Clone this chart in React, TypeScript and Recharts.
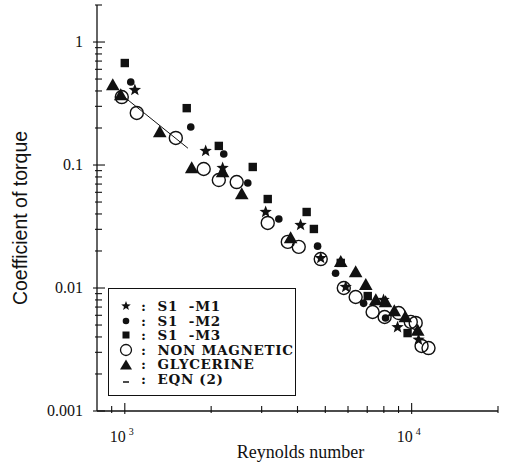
import React from "react";
import { ScatterChart, Scatter, XAxis, YAxis, Legend } from "recharts";

// Reynolds number / torque coefficient pairs for each run
const m1Re = [1084, 1914, 2193, 3098, 4100, 4820, 5890, 7980, 8930, 10570];
const m1Ct = [0.407, 0.13, 0.0946, 0.0415, 0.0325, 0.0175, 0.0102, 0.008, 0.0048, 0.0038];

const m2Re = [1049, 1698, 2213, 2684, 3443, 4700, 5430, 6800, 8110];
const m2Ct = [0.473, 0.204, 0.123, 0.0714, 0.0364, 0.0219, 0.0132, 0.0075, 0.0057];

const m3Re = [1000, 1644, 2127, 2793, 3150, 4305, 4562, 5660, 7030, 9680];
const m3Ct = [0.675, 0.29, 0.143, 0.0964, 0.0529, 0.0415, 0.0302, 0.016, 0.0086, 0.0043];

const nonMagRe = [976, 1101, 1506, 1884, 2127, 2455, 3150, 3700, 4040, 4820, 5800, 6380, 7310, 8050, 9010, 9930, 10330, 10830, 11450];
const nonMagCt = [0.357, 0.265, 0.166, 0.0928, 0.0755, 0.0727, 0.0338, 0.0237, 0.0216, 0.0172, 0.01, 0.00845, 0.00638, 0.00581, 0.00626, 0.0053, 0.0052, 0.00338, 0.00325];

const glyRe = [908, 968, 1324, 1711, 2193, 2557, 3785, 5660, 6380, 6920, 7500, 8110, 8700, 9500, 10500];
const glyCt = [0.447, 0.37, 0.185, 0.0946, 0.0877, 0.0581, 0.0255, 0.0163, 0.0135, 0.0106, 0.008, 0.0077, 0.0065, 0.0058, 0.0045];

// EQN (2) segment
const eqnRe = [950, 1660];
const eqnCt = [0.39, 0.137];

const xTicks = [900, 1000, 2000, 3000, 4000, 5000, 6000, 7000, 8000, 9000, 10000, 20000];
const yTicks = [
  0.001, 0.002, 0.003, 0.004, 0.005, 0.006, 0.007, 0.008, 0.009,
  0.01, 0.02, 0.03, 0.04, 0.05, 0.06, 0.07, 0.08, 0.09,
  0.1, 0.2, 0.3, 0.4, 0.5, 0.6, 0.7, 0.8, 0.9,
  1, 2,
];
const yMajor = ["0.001", "0.01", "0.1", "1"];
const xMajor = [
  { value: 1000, exp: "3" },
  { value: 10000, exp: "4" },
];

const zip = (xs: number[], ys: number[]) => xs.map((re, i) => ({ re, ct: ys[i] }));

const INK = "#111";
const SERIF = "'Liberation Serif', 'Times New Roman', Tinos, 'DejaVu Serif', 'Noto Serif', serif";
const BOLD_SERIF = "'DejaVu Serif', 'Liberation Serif', 'Noto Serif', serif";

const Star = ({ cx, cy, r = 6.5 }: any) => {
  const pts: string[] = [];
  for (let i = 0; i < 10; i++) {
    const a = (Math.PI / 5) * i - Math.PI / 2;
    const rr = i % 2 === 0 ? r : r * 0.42;
    pts.push(`${cx + rr * Math.cos(a)},${cy + rr * Math.sin(a)}`);
  }
  return <polygon points={pts.join(" ")} fill={INK} />;
};
const Dot = ({ cx, cy }: any) => <circle cx={cx} cy={cy} r={3.8} fill={INK} />;
const Square = ({ cx, cy }: any) => <rect x={cx - 4.2} y={cy - 4.2} width={8.4} height={8.4} fill={INK} />;
const Ring = ({ cx, cy }: any) => (
  <circle cx={cx} cy={cy} r={6.5} fill="none" stroke={INK} strokeWidth={1.4} />
);
const Tri = ({ cx, cy }: any) => (
  <polygon points={`${cx},${cy - 6.8} ${cx + 6.8},${cy + 5.2} ${cx - 6.8},${cy + 5.2}`} fill={INK} />
);
const NoMark = () => <g />;

const YTick = ({ x, y, payload }: any) => {
  const label = yMajor.find((s) => Number(s) === payload.value);
  return (
    <g>
      <line x1={x - (label ? 4 : 2)} x2={x + (label ? 8 : 5)} y1={y} y2={y} stroke={INK} strokeWidth={1.1} />
      {label && (
        <text x={x - 14} y={y} dy={5} textAnchor="end" style={{ fontFamily: SERIF }} fontSize={16} fill={INK}>
          {label}
        </text>
      )}
    </g>
  );
};

const XTick = ({ x, y, payload }: any) => {
  const major = xMajor.find((m) => m.value === payload.value);
  return (
    <g>
      <line x1={x} x2={x} y1={y + (major ? 3 : 2)} y2={y - (major ? 8 : 5)} stroke={INK} strokeWidth={1.1} />
      {major && (
        <text x={x - 3} y={y + 31} textAnchor="middle" style={{ fontFamily: SERIF }} fontSize={16} fill={INK}>
          10
          <tspan dx={3} dy={-7} fontSize={10}>
            {major.exp}
          </tspan>
        </text>
      )}
    </g>
  );
};

const legendRows = [
  { mark: "star", text: "S1  -M1" },
  { mark: "dot", text: "S1  -M2" },
  { mark: "square", text: "S1  -M3" },
  { mark: "ring", text: "NON MAGNETIC" },
  { mark: "tri", text: "GLYCERINE" },
  { mark: "dash", text: "EQN (2)" },
];

const LegendMark = ({ mark }: { mark: string }) => {
  const c = 7;
  return (
    <svg width={14} height={14} style={{ display: "block" }}>
      {mark === "star" && <Star cx={c} cy={c} r={5} />}
      {mark === "dot" && <circle cx={c} cy={c} r={3.3} fill={INK} />}
      {mark === "square" && <rect x={c - 3.5} y={c - 3.5} width={7} height={7} fill={INK} />}
      {mark === "ring" && <circle cx={c} cy={c} r={5.5} fill="none" stroke={INK} strokeWidth={1.3} />}
      {mark === "tri" && <polygon points={`${c},${c - 5.5} ${c + 6},${c + 4.5} ${c - 6},${c + 4.5}`} fill={INK} />}
      {mark === "dash" && <line x1={c - 3} x2={c + 3} y1={c + 3} y2={c + 3} stroke={INK} strokeWidth={1.5} />}
    </svg>
  );
};

const LegendBox = () => (
  <div
    style={{
      border: `1.3px solid ${INK}`,
      width: 188,
      height: 108,
      boxSizing: "border-box",
      padding: "10px 0 0 10px",
      fontFamily: BOLD_SERIF,
      fontWeight: "bold",
      fontSize: 13.5,
      lineHeight: "14.6px",
      letterSpacing: 0.7,
      color: INK,
    }}
  >
    {legendRows.map((r) => (
      <div key={r.text} style={{ display: "flex", alignItems: "center", height: 14.6 }}>
        <LegendMark mark={r.mark} />
        <span style={{ marginLeft: 8, whiteSpace: "pre" }}>:  {r.text}</span>
      </div>
    ))}
  </div>
);

export default function App() {
  return (
    <div style={{ position: "absolute", left: 0, top: 0, background: "#fff" }}>
      <ScatterChart width={506} height={463} margin={{ top: 5, right: 8, left: 0, bottom: 0 }}>
        <XAxis
          dataKey="re"
          type="number"
          scale="log"
          domain={[800, 20000]}
          ticks={xTicks}
          interval={0}
          allowDataOverflow
          height={52}
          tickSize={0}
          tickMargin={0}
          tick={<XTick />}
          axisLine={{ stroke: INK, strokeWidth: 1.3 }}
          label={{
            content: ({ viewBox }: any) => (
              <text
                x={viewBox.x + viewBox.width / 2 + 3}
                y={viewBox.y + 47}
                textAnchor="middle"
                style={{ fontFamily: SERIF }}
                fontSize={18}
                fill={INK}
              >
                Reynolds number
              </text>
            ),
          }}
        />
        <XAxis
          xAxisId="top"
          orientation="top"
          type="number"
          scale="log"
          domain={[800, 20000]}
          height={0}
          tick={false}
          tickLine={false}
          axisLine={{ stroke: INK, strokeWidth: 1.3 }}
        />
        <YAxis
          dataKey="ct"
          type="number"
          scale="log"
          domain={[0.001, 2]}
          ticks={yTicks}
          interval={0}
          allowDataOverflow
          width={97}
          tickSize={0}
          tickMargin={0}
          tick={<YTick />}
          axisLine={{ stroke: INK, strokeWidth: 1.3 }}
          label={{
            content: ({ viewBox }: any) => {
              const x = viewBox.x + 27;
              const y = viewBox.y + viewBox.height / 2 + 10;
              return (
                <text
                  x={x}
                  y={y}
                  transform={`rotate(-90, ${x}, ${y})`}
                  textAnchor="middle"
                  style={{ fontFamily: "'Liberation Sans', Arial, sans-serif" }}
                  fontSize={19.5}
                  fill={INK}
                >
                  Coefficient of torque
                </text>
              );
            },
          }}
        />
        <YAxis
          yAxisId="right"
          orientation="right"
          type="number"
          scale="log"
          domain={[0.001, 2]}
          width={0}
          tick={false}
          tickLine={false}
          axisLine={{ stroke: INK, strokeWidth: 1.3 }}
        />
        <Legend
          layout="vertical"
          align="center"
          verticalAlign="middle"
          content={<LegendBox />}
          wrapperStyle={{ left: 108, top: 288, width: 188, height: 108 }}
        />
        <Scatter name="EQN (2)" data={zip(eqnRe, eqnCt)} shape={<NoMark />} line={{ stroke: INK, strokeWidth: 1 }} isAnimationActive={false} />
        <Scatter name="NON MAGNETIC" data={zip(nonMagRe, nonMagCt)} shape={<Ring />} isAnimationActive={false} />
        <Scatter name="GLYCERINE" data={zip(glyRe, glyCt)} shape={<Tri />} isAnimationActive={false} />
        <Scatter name="S1 -M3" data={zip(m3Re, m3Ct)} shape={<Square />} isAnimationActive={false} />
        <Scatter name="S1 -M2" data={zip(m2Re, m2Ct)} shape={<Dot />} isAnimationActive={false} />
        <Scatter name="S1 -M1" data={zip(m1Re, m1Ct)} shape={<Star />} isAnimationActive={false} />
      </ScatterChart>
    </div>
  );
}
